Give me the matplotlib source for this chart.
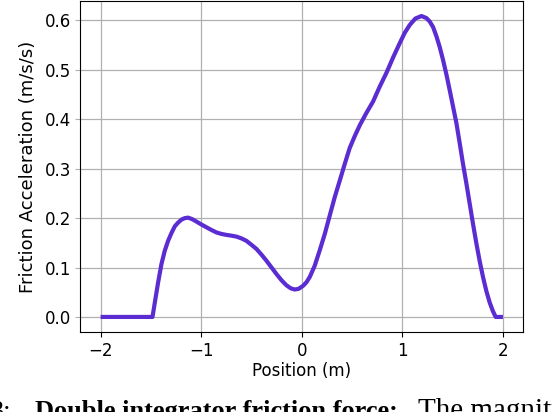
import matplotlib
matplotlib.use("Agg")
import matplotlib.pyplot as plt

# Data
position = [-2.0, -1.484, -1.461, -1.428, -1.395, -1.362, -1.329, -1.295, -1.262, -1.229,
            -1.196, -1.163, -1.13, -1.09, -1.047, -0.997, -0.948, -0.898, -0.848, -0.798,
            -0.748, -0.699, -0.649, -0.6, -0.55, -0.5, -0.45, -0.40, -0.351, -0.30,
            -0.251, -0.20, -0.152, -0.11, -0.07, -0.03, 0.013, 0.046, 0.08, 0.129,
            0.179, 0.229, 0.278, 0.328, 0.378, 0.428, 0.477, 0.527, 0.577, 0.643,
            0.709, 0.775, 0.842, 0.908, 0.974, 1.024, 1.074, 1.13, 1.19, 1.239,
            1.272, 1.305, 1.339, 1.372, 1.405, 1.438, 1.471, 1.504, 1.538, 1.571,
            1.603, 1.637, 1.67, 1.703, 1.737, 1.77, 1.803, 1.836, 1.869, 1.90,
            1.928, 2.0]
friction = [0.0, 0.0, 0.029, 0.070, 0.107, 0.134, 0.154, 0.170, 0.1835, 0.191,
            0.197, 0.200, 0.201, 0.198, 0.193, 0.187, 0.1815, 0.176, 0.171, 0.168,
            0.166, 0.1645, 0.1626, 0.159, 0.154, 0.146, 0.1376, 0.126, 0.1138, 0.100,
            0.0867, 0.074, 0.064, 0.058, 0.0555, 0.057, 0.063, 0.070, 0.081, 0.1037,
            0.135, 0.168, 0.205, 0.2425, 0.276, 0.310, 0.342, 0.366, 0.388, 0.413,
            0.436, 0.466, 0.494, 0.525, 0.554, 0.575, 0.591, 0.604, 0.609, 0.605,
            0.598, 0.587, 0.568, 0.546, 0.520, 0.491, 0.459, 0.426, 0.392, 0.351,
            0.310, 0.270, 0.229, 0.188, 0.148, 0.112, 0.080, 0.052, 0.029, 0.012,
            0.0, 0.0]
x_ticks = [-2, -1, 0, 1, 2]
y_ticks = [0.0, 0.1, 0.2, 0.3, 0.4, 0.5, 0.6]
x_label = "Position (m)"
y_label = "Friction Acceleration (m/s/s)"
caption_num = "3:"
caption_bold = "Double integrator friction force:"
caption_rest = "The magnitude"

fig = plt.figure(figsize=(5.52, 4.12), dpi=100)
ax = fig.add_axes([0.1458, 0.1942, 0.8017, 0.8034])
ax.plot(position, friction, color="#5a2cd2", lw=3.0, solid_capstyle="butt",
        solid_joinstyle="round")
ax.set_xticks(x_ticks)
ax.set_yticks(y_ticks)
ax.set_yticklabels([f"{v:.1f}" for v in y_ticks])
ax.grid(True, color="#b0b0b0", lw=0.9)
ax.set_axisbelow(True)
ax.tick_params(labelsize=12)
ax.tick_params(axis="y", color="#b0b0b0")
ax.set_xlabel(x_label, fontsize=12, labelpad=2)
ax.set_ylabel(y_label, fontsize=13, labelpad=5)

# Caption fragment (cropped paper caption)
cap_y = -0.014
fig.text(-0.016, cap_y, caption_num, family="Liberation Serif", fontsize=19, va="baseline")
fig.text(0.063, cap_y, caption_bold, family="Liberation Serif",
         fontsize=19, fontweight="bold", va="baseline")
fig.text(0.757, cap_y, caption_rest, family="Liberation Serif", fontsize=21, va="baseline")

fig.savefig("out.png", dpi=100)
